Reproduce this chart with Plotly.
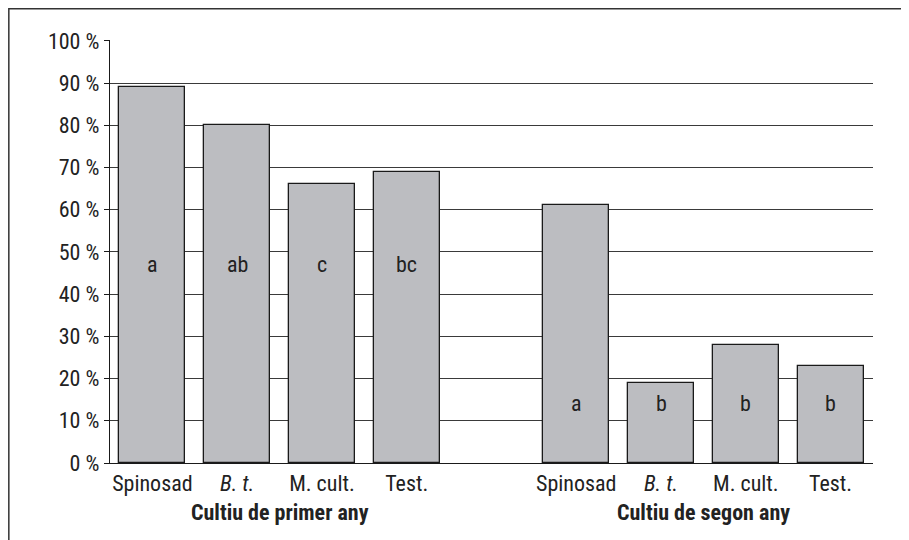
import plotly.graph_objects as go

categories = ["Spinosad", "<i>B. t.</i>", "M. cult.", "Test."]
year1_values = [89, 80, 66, 69]
year2_values = [61, 19, 28, 23]
year1_letters = ["a", "ab", "c", "bc"]
year2_letters = ["a", "b", "b", "b"]
group_titles = ["Cultiu de primer any", "Cultiu de segon any"]
y_ticks = [0, 10, 20, 30, 40, 50, 60, 70, 80, 90, 100]

FONT = "Liberation Sans Narrow, Arial Narrow, Roboto Condensed, sans-serif"
TXT = "#222222"
BAR = "#bcbdc1"
FS = 22

x1 = [0, 1, 2, 3]
x2 = [5, 6, 7, 8]

fig = go.Figure()
fig.add_trace(go.Bar(x=x1 + x2, y=year1_values + year2_values, width=0.78,
                     marker=dict(color=BAR, line=dict(color="#1a1a1a", width=1.3)),
                     showlegend=False, hoverinfo="skip"))

annotations = []
for xi, t in zip(x1, year1_letters):
    annotations.append(dict(x=xi, y=47, xref="x", yref="y", text=t, showarrow=False,
                            font=dict(family=FONT, size=FS, color=TXT)))
for xi, t in zip(x2, year2_letters):
    annotations.append(dict(x=xi, y=14, xref="x", yref="y", text=t, showarrow=False,
                            font=dict(family=FONT, size=FS, color=TXT)))
for xc, t in zip([1.5, 6.5], group_titles):
    annotations.append(dict(x=xc, y=-0.116, xref="x", yref="paper", text="<b>" + t + "</b>",
                            showarrow=False, yanchor="middle",
                            font=dict(family=FONT, size=FS, color=TXT)))

fig.update_layout(
    width=909, height=540,
    margin=dict(l=102, r=44, t=32, b=85),
    paper_bgcolor="white", plot_bgcolor="white",
    font=dict(family=FONT, size=FS, color=TXT),
    bargap=0,
    annotations=annotations,
    shapes=[dict(type="rect", xref="paper", yref="paper",
                 x0=-0.1326, x1=1.2, y0=-0.4, y1=1.0738,
                 line=dict(color="#333333", width=1.5), fillcolor="rgba(0,0,0,0)", layer="below")],
    xaxis=dict(range=[-0.5, 8.5], tickmode="array", tickvals=x1 + x2,
               ticktext=categories + categories, showgrid=False, zeroline=False,
               showline=True, linecolor="#1a1a1a", linewidth=1.3, ticks="", ticklen=0,
               tickfont=dict(family=FONT, size=FS, color=TXT), fixedrange=True),
    yaxis=dict(range=[0, 100.2], tickmode="array", tickvals=y_ticks,
               ticktext=[f"{v} %" for v in y_ticks], showgrid=True, gridcolor="#3a3a3a",
               gridwidth=1, zeroline=False, showline=True, linecolor="#1a1a1a", linewidth=1.3,
               ticks="outside", ticklen=5, tickcolor="#1a1a1a", tickwidth=1.2,
               tickfont=dict(family=FONT, size=FS, color=TXT), fixedrange=True),
)

fig.write_html("out.html")
